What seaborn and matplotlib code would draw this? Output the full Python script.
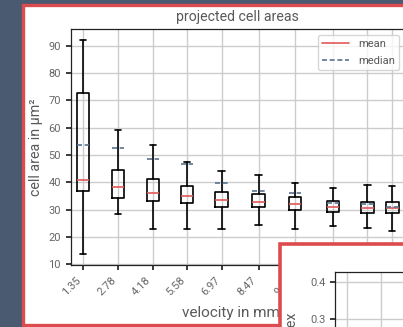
import matplotlib
matplotlib.use("Agg")
import matplotlib.pyplot as plt
import seaborn as sns
from matplotlib.lines import Line2D
from matplotlib.patches import Rectangle

# box statistics (cell area in um^2)
velocity = [1.35, 2.78, 4.18, 5.58, 6.97, 8.47, 9.95, 11.48, 12.89, 13.90]
whisker_low = [13.9, 28.4, 23.0, 23.0, 23.0, 24.4, 23.0, 23.8, 23.2, 22.3]
q1 = [36.9, 34.2, 33.3, 32.4, 31.1, 31.1, 29.7, 29.1, 28.7, 28.6]
q3 = [72.7, 44.6, 41.3, 38.6, 36.3, 35.6, 34.5, 33.0, 32.8, 32.9]
whisker_high = [91.9, 59.0, 53.5, 47.3, 44.1, 42.6, 39.6, 37.9, 39.0, 38.6]
mean_area = [40.8, 38.1, 36.2, 35.0, 33.4, 32.9, 32.0, 31.0, 30.7, 30.6]
median_area = [53.7, 52.5, 48.6, 46.6, 39.6, 36.8, 36.0, 32.3, 31.9, 30.9]
area_ticks = [10, 20, 30, 40, 50, 60, 70, 80, 90]

# second (overlapping) slide panel, only its top-left corner is visible
inset_ticks = [0.3, 0.4]
inset_xticks = [0, 1, 2, 3, 4]

SLATE = "#4a5a70"
FRAME_RED = "#dc4c4f"
RED = "#e05a5a"
BLUE = "#5a7291"
TXT = "#5a5a5a"

sns.set_theme(style="whitegrid", rc={
    "axes.edgecolor": "#222222",
    "axes.linewidth": 0.9,
    "grid.color": "#cccccc",
    "grid.linewidth": 1.0,
    "xtick.bottom": True,
    "ytick.left": True,
    "xtick.color": "#222222",
    "ytick.color": "#222222",
    "xtick.labelcolor": "#666666",
    "ytick.labelcolor": "#666666",
    "xtick.major.size": 3.5,
    "ytick.major.size": 3.5,
    "xtick.labelsize": 8,
    "ytick.labelsize": 8,
    "axes.labelcolor": TXT,
    "axes.titlecolor": TXT,
})
plt.rcParams["font.family"] = ["Roboto", "DejaVu Sans"]

W, H = 403, 327
fig = plt.figure(figsize=(W / 100, H / 100), dpi=100, facecolor=SLATE)


def fx(px):
    return px / W


def fy(py):
    return 1 - py / H


# slide panels (white cards with a red frame)
fig.patches.append(Rectangle((fx(23.4), fy(325.3)), fx(500), fy(5.4) - fy(325.3),
                             transform=fig.transFigure, facecolor="white", edgecolor=FRAME_RED,
                             linewidth=2.4, zorder=-1))
fig.patches.append(Rectangle((fx(279.5), fy(500)), fx(300), fy(244) - fy(500),
                             transform=fig.transFigure, facecolor="white", edgecolor=FRAME_RED,
                             linewidth=2.6, zorder=1))

ax = fig.add_axes([fx(70.7), fy(265), fx(404.7 - 70.7), (265 - 29.3) / H], zorder=0)
ax.set_facecolor("white")

stats = [
    dict(med=m, mean=md, q1=a, q3=b, whislo=lo, whishi=hi, fliers=[])
    for m, md, a, b, lo, hi in zip(mean_area, median_area, q1, q3, whisker_low, whisker_high)
]
ax.bxp(
    stats,
    positions=velocity,
    widths=0.5,
    showmeans=True,
    meanline=True,
    showfliers=False,
    manage_ticks=False,
    boxprops=dict(color="black", linewidth=1.2),
    whiskerprops=dict(color="black", linewidth=1.2),
    capprops=dict(color="black", linewidth=1.2),
    medianprops=dict(color=RED, linewidth=1.2),
    meanprops=dict(color=BLUE, linestyle=(0, (3, 1.6)), linewidth=1.2),
)
ax.set_xlim(velocity[0] - 0.5, velocity[-1] + 0.5)
ax.set_ylim(9.7, 96)
ax.set_yticks(area_ticks)
ax.set_xticks(velocity)
ax.set_xticklabels([f"{v:.2f}" for v in velocity], rotation=45, ha="right")
for s in ax.spines.values():
    s.set_visible(True)
ax.set_title("projected cell areas", fontsize=10.2, pad=6)
ax.set_ylabel("cell area in µm²", fontsize=10.3)
ax.set_xlabel("velocity in mm/s", fontsize=11, labelpad=3)
ax.legend(
    handles=[
        Line2D([], [], color=RED, linewidth=1.2, label="mean"),
        Line2D([], [], color=BLUE, linewidth=1.2, linestyle=(0, (3, 1.6)), label="median"),
    ],
    loc="upper right",
    fontsize=8,
    handlelength=2.4,
    labelspacing=0.6,
    frameon=True,
    labelcolor=TXT,
)

ax2 = fig.add_axes([fx(335), fy(420), fx(165), (420 - 271.7) / H], zorder=2)
ax2.set_facecolor("white")
ax2.set_ylim(0.4 + (282.3 - 271.7) / 370 - 148.3 / 370, 0.4 + (282.3 - 271.7) / 370)
ax2.set_xlim(-0.365, -0.365 + 165 / 33.7)
ax2.set_yticks(inset_ticks)
ax2.set_yticklabels([f"{t:.1f}" for t in inset_ticks])
ax2.set_xticks(inset_xticks)
ax2.set_xticklabels([])
for s in ax2.spines.values():
    s.set_visible(True)
fig.text(fx(291.7), fy(312.5), "deformation index", rotation=90, ha="center", va="top",
         fontsize=10.3, color=TXT, zorder=3)

fig.savefig("out.png", dpi=100, facecolor=SLATE)
